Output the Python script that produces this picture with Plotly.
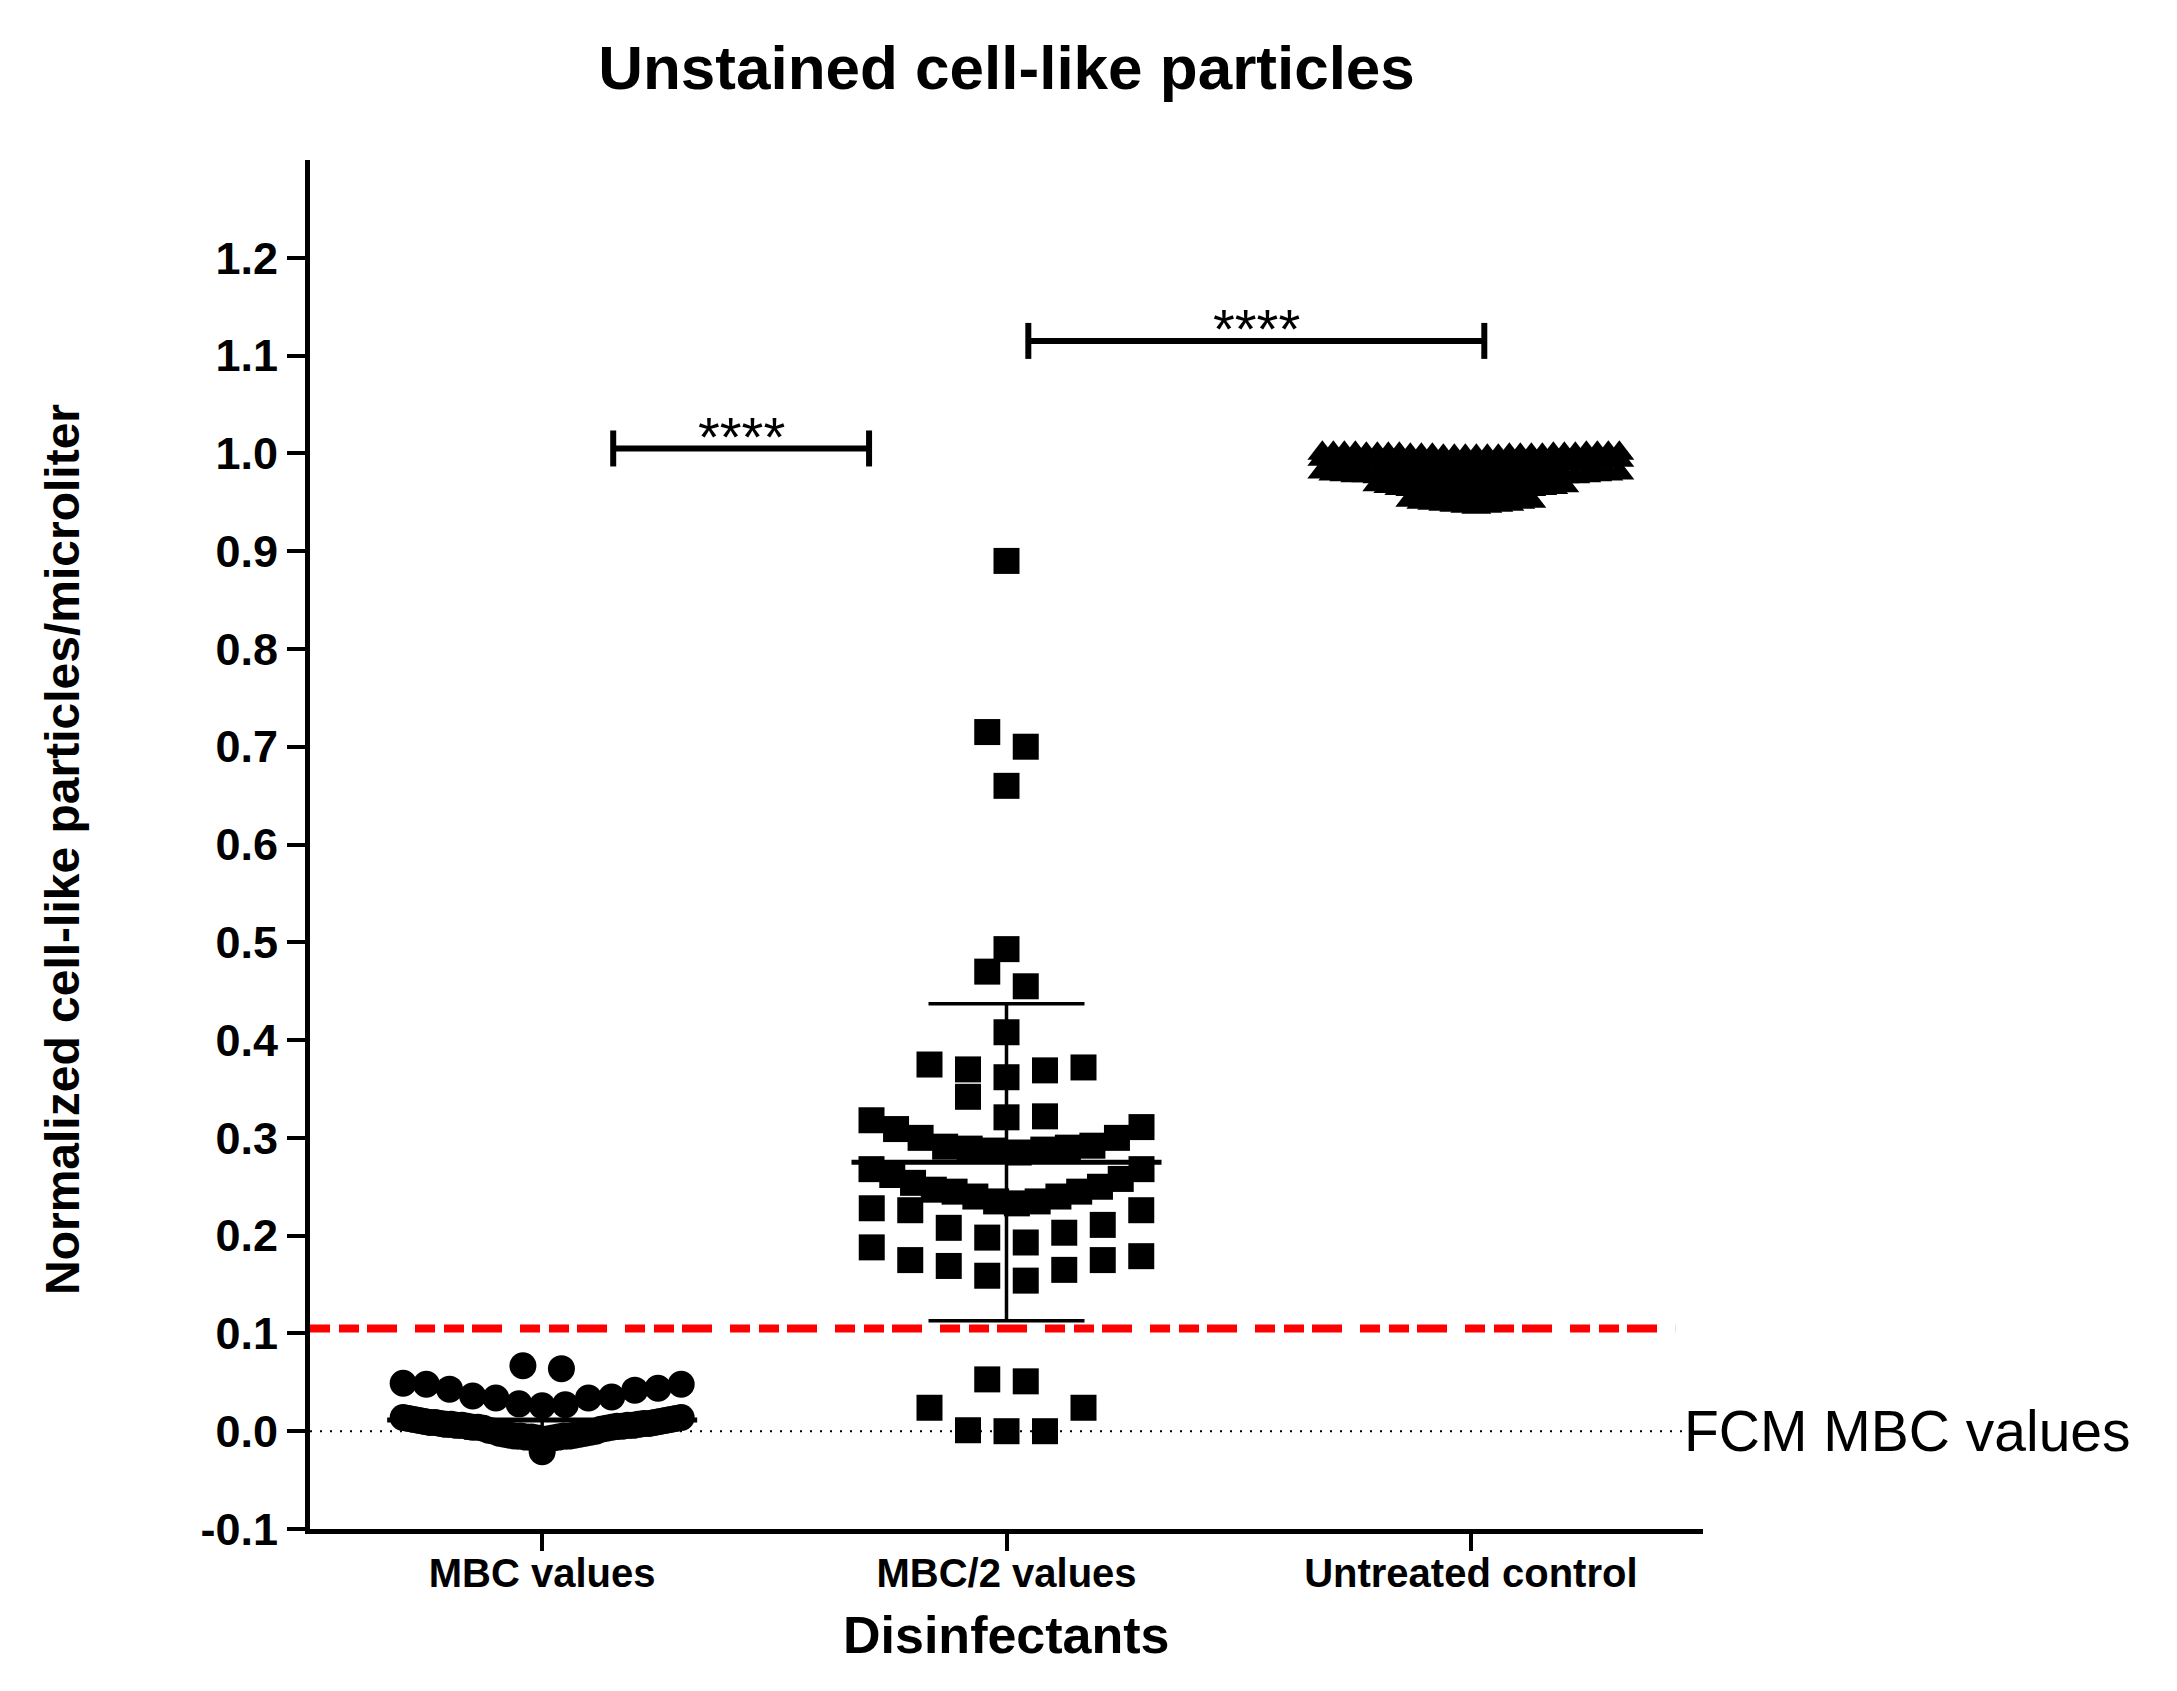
import numpy as np
import plotly.graph_objects as go

# ---------------- data ----------------
categories = ["MBC values", "MBC/2 values", "Untreated control"]

mbc_values = [
    0.067, 0.064,
    0.049, 0.048, 0.048, 0.044, 0.043, 0.042, 0.036, 0.035, 0.034, 0.034, 0.028, 0.027, 0.026,
    0.014, 0.014, 0.013, 0.013, 0.012, 0.012, 0.011, 0.011, 0.010, 0.010,
    0.009, 0.009, 0.009, 0.008, 0.008, 0.008, 0.007, 0.007, 0.007, 0.006,
    0.006, 0.006, 0.006, 0.005, 0.005, 0.005, 0.004, 0.004, 0.004, 0.003,
    0.003, 0.002, 0.001, 0.000, 0.000, -0.001, -0.002, -0.002, -0.003, -0.003,
    -0.004, -0.004, -0.005, -0.005, -0.005, -0.005, -0.006, -0.006, -0.006, -0.007,
    -0.007, -0.008,
    -0.021,
]

mbc_half_values = [
    0.890, 0.715, 0.700, 0.660, 0.493, 0.470, 0.455, 0.408,
    0.375, 0.372, 0.370, 0.369, 0.362, 0.342, 0.322, 0.321,
    0.318, 0.311, 0.309, 0.300, 0.300, 0.292, 0.291, 0.290, 0.289, 0.288, 0.287, 0.285,
    0.268, 0.268, 0.262, 0.258, 0.254, 0.250, 0.247, 0.245, 0.245, 0.240, 0.240, 0.235, 0.235, 0.233,
    0.228, 0.226, 0.226, 0.211, 0.208, 0.203, 0.198, 0.193,
    0.188, 0.179, 0.175, 0.175, 0.169, 0.165, 0.159, 0.154,
    0.053, 0.051, 0.024, 0.024, 0.001, 0.000, 0.000,
]

untreated_values = [
    0.945, 0.946, 0.946, 0.947, 0.947, 0.948, 0.948, 0.949, 0.950, 0.950, 0.951, 0.952,
    0.958, 0.959, 0.959, 0.960, 0.960, 0.961, 0.961, 0.962, 0.962, 0.962,
    0.963, 0.963, 0.964, 0.964, 0.965, 0.966, 0.967, 0.968,
    0.971, 0.971, 0.972, 0.972, 0.972, 0.973, 0.973, 0.973, 0.974, 0.974,
    0.974, 0.974, 0.975, 0.975, 0.975, 0.975, 0.976, 0.976, 0.976, 0.977,
    0.977, 0.977, 0.978, 0.978, 0.979, 0.979, 0.980, 0.981,
    0.984, 0.984, 0.985, 0.985, 0.985, 0.986, 0.986, 0.986, 0.987, 0.987,
    0.987, 0.987, 0.988, 0.988, 0.988, 0.988, 0.989, 0.989, 0.989, 0.990,
    0.990, 0.990, 0.991, 0.991, 0.992, 0.992, 0.993, 0.994,
    0.997, 0.997, 0.997, 0.997, 0.997, 0.997, 0.998, 0.998, 0.998, 0.998,
    0.998, 0.998, 0.998, 0.999, 0.999, 0.999, 0.999, 0.999, 0.999, 0.999,
    1.000, 1.000, 1.000, 1.000, 1.000, 1.000, 1.000, 1.000,
]

y_tick_values = [-0.1, 0.0, 0.1, 0.2, 0.3, 0.4, 0.5, 0.6, 0.7, 0.8, 0.9, 1.0, 1.1, 1.2]
y_tick_labels = ["-0.1", "0.0", "0.1", "0.2", "0.3", "0.4", "0.5", "0.6",
                 "0.7", "0.8", "0.9", "1.0", "1.1", "1.2"]

fcm_mbc_threshold = 0.105
fcm_label = "FCM MBC values"
significance_labels = ["****", "****"]

title_text = "Unstained cell-like particles"
x_title = "Disinfectants"
y_title = "Normalized cell-like particles/microliter"

# ---------------- layout constants ----------------
PAGE_OFFSET = 8          # default body margin of the html page
W, H = 2177 - PAGE_OFFSET, 1691 - PAGE_OFFSET
ML, MR, MT, MB = 310 - PAGE_OFFSET, 474, 160 - PAGE_OFFSET, 162
X_RANGE = (-0.5, 2.5)
Y_RANGE = (-0.1, 1.3)
PLOT_W = W - ML - MR
PLOT_H = H - MT - MB
PX_PER_X = PLOT_W / (X_RANGE[1] - X_RANGE[0])
PX_PER_Y = PLOT_H / (Y_RANGE[1] - Y_RANGE[0])

FONT = "Liberation Sans, Arial, Helvetica, sans-serif"

group_styles = [
    dict(symbol="circle", size=27, row_h=0.0355, step_px=38.5, half_px=139),
    dict(symbol="square", size=26, row_h=0.0355, step_px=38.5, half_px=135),
    dict(symbol="triangle-up", size=26, row_h=0.0125, step_px=11, half_px=150),
]
group_values = [mbc_values, mbc_half_values, untreated_values]

MEAN_HALF = 155 / PX_PER_X
CAP_HALF = 78 / PX_PER_X

# bracket geometry (x in category units, y in data units)
BRACKETS = [(0.153, 0.704, 1.005), (1.047, 2.029, 1.115)]
BRACKET_CAP = 0.0184
THRESH_X_END = 2.44
ZERO_X_END = 2.455


def column_scatter(values, row_h, step_px, half_px):
    """GraphPad-like column scatter: rows of nearby values spread center-out."""
    vals = sorted(values)
    offsets, ys = [], []
    i = 0
    while i < len(vals):
        start = vals[i]
        row = []
        while i < len(vals) and vals[i] < start + row_h - 1e-9:
            row.append(vals[i])
            i += 1
        n = len(row)
        s = step_px if n < 2 else min(step_px, 2 * half_px / (n - 1))
        if n % 2:
            slots = [0.0] + [sg * k for k in range(1, n // 2 + 1) for sg in (1, -1)]
        else:
            slots = [sg * (k - 0.5) for k in range(1, n // 2 + 1) for sg in (1, -1)]
        for v, sl in zip(row, slots):
            offsets.append(sl * s / PX_PER_X)
            ys.append(v)
    return offsets, ys


fig = go.Figure()

for gi, (vals, st) in enumerate(zip(group_values, group_styles)):
    offs, ys = column_scatter(vals, st["row_h"], st["step_px"], st["half_px"])
    fig.add_trace(go.Scatter(
        x=[gi + o for o in offs], y=ys, mode="markers",
        marker=dict(symbol=st["symbol"], size=st["size"], color="#000000",
                    line=dict(width=0)),
        showlegend=False, hoverinfo="skip"))

for gi, vals in enumerate(group_values):
    arr = np.asarray(vals, dtype=float)
    m = float(arr.mean())
    sd = float(arr.std(ddof=1))
    fig.add_trace(go.Scatter(
        x=[gi, gi, None, gi - CAP_HALF, gi + CAP_HALF, None, gi - CAP_HALF, gi + CAP_HALF],
        y=[m - sd, m + sd, None, m + sd, m + sd, None, m - sd, m - sd],
        mode="lines", line=dict(color="#000000", width=3.5),
        showlegend=False, hoverinfo="skip"))
    fig.add_trace(go.Scatter(
        x=[gi - MEAN_HALF, gi + MEAN_HALF], y=[m, m],
        mode="lines", line=dict(color="#000000", width=5),
        showlegend=False, hoverinfo="skip"))

shapes = [
    dict(type="line", xref="x", yref="y", x0=X_RANGE[0], x1=ZERO_X_END, y0=0, y1=0,
         line=dict(color="#000000", width=2, dash="2px,8px"), layer="below"),
    dict(type="line", xref="x", yref="y", x0=X_RANGE[0], x1=THRESH_X_END,
         y0=fcm_mbc_threshold, y1=fcm_mbc_threshold,
         line=dict(color="#FF0000", width=8, dash="20px,9px,20px,8px,30px,18px"),
         layer="above"),
]
annotations = []
for (x0, x1, yb), lab in zip(BRACKETS, significance_labels):
    shapes.append(dict(type="line", xref="x", yref="y", x0=x0, x1=x1, y0=yb, y1=yb,
                       line=dict(color="#000000", width=6)))
    for xx in (x0, x1):
        shapes.append(dict(type="line", xref="x", yref="y", x0=xx, x1=xx,
                           y0=yb - BRACKET_CAP, y1=yb + BRACKET_CAP,
                           line=dict(color="#000000", width=6)))
    annotations.append(dict(x=(x0 + x1) / 2, y=yb, xref="x", yref="y", text=lab,
                            showarrow=False, xanchor="center", yanchor="middle", yshift=12,
                            font=dict(family=FONT, size=56, color="#000000")))

annotations.append(dict(x=ZERO_X_END, y=0, xref="x", yref="y", text=fcm_label,
                        showarrow=False, xanchor="left", yanchor="middle",
                        font=dict(family=FONT, size=57, color="#000000")))
# axis titles placed at target pixel centers (page coordinates)
annotations.append(dict(x=(62 - 310) / PLOT_W, y=(1529 - 850) / PLOT_H,
                        xref="paper", yref="paper", text=y_title, textangle=-90,
                        showarrow=False, xanchor="center", yanchor="middle",
                        font=dict(family=FONT, size=48, color="#000000", weight="bold")))
annotations.append(dict(x=(1006 - 310) / PLOT_W, y=(1529 - 1635) / PLOT_H,
                        xref="paper", yref="paper", text=x_title,
                        showarrow=False, xanchor="center", yanchor="middle",
                        font=dict(family=FONT, size=52, color="#000000", weight="bold")))

fig.update_layout(
    width=W, height=H, autosize=False,
    margin=dict(l=ML, r=MR, t=MT, b=MB, pad=0),
    paper_bgcolor="#FFFFFF", plot_bgcolor="#FFFFFF",
    font=dict(family=FONT, color="#000000"),
    title=dict(text=title_text, x=0.5, xref="paper", xanchor="center",
               y=1 - (67 - PAGE_OFFSET) / H, yref="container", yanchor="middle",
               font=dict(family=FONT, size=62, color="#000000", weight="bold")),
    xaxis=dict(range=list(X_RANGE), tickmode="array", tickvals=[0, 1, 2],
               ticktext=categories, showline=True, linewidth=5, linecolor="#000000",
               ticks="outside", ticklen=17, tickwidth=4, tickcolor="#000000",
               ticklabelstandoff=-12,
               tickfont=dict(family=FONT, size=40, color="#000000", weight="bold"),
               showgrid=False, zeroline=False),
    yaxis=dict(range=list(Y_RANGE), tickmode="array", tickvals=y_tick_values,
               ticktext=y_tick_labels, showline=True, linewidth=5, linecolor="#000000",
               ticks="outside", ticklen=18, tickwidth=4, tickcolor="#000000",
               tickfont=dict(family=FONT, size=45, color="#000000", weight="bold"),
               showgrid=False, zeroline=False),
    shapes=shapes,
    annotations=annotations,
)

fig.write_html("out.html")
